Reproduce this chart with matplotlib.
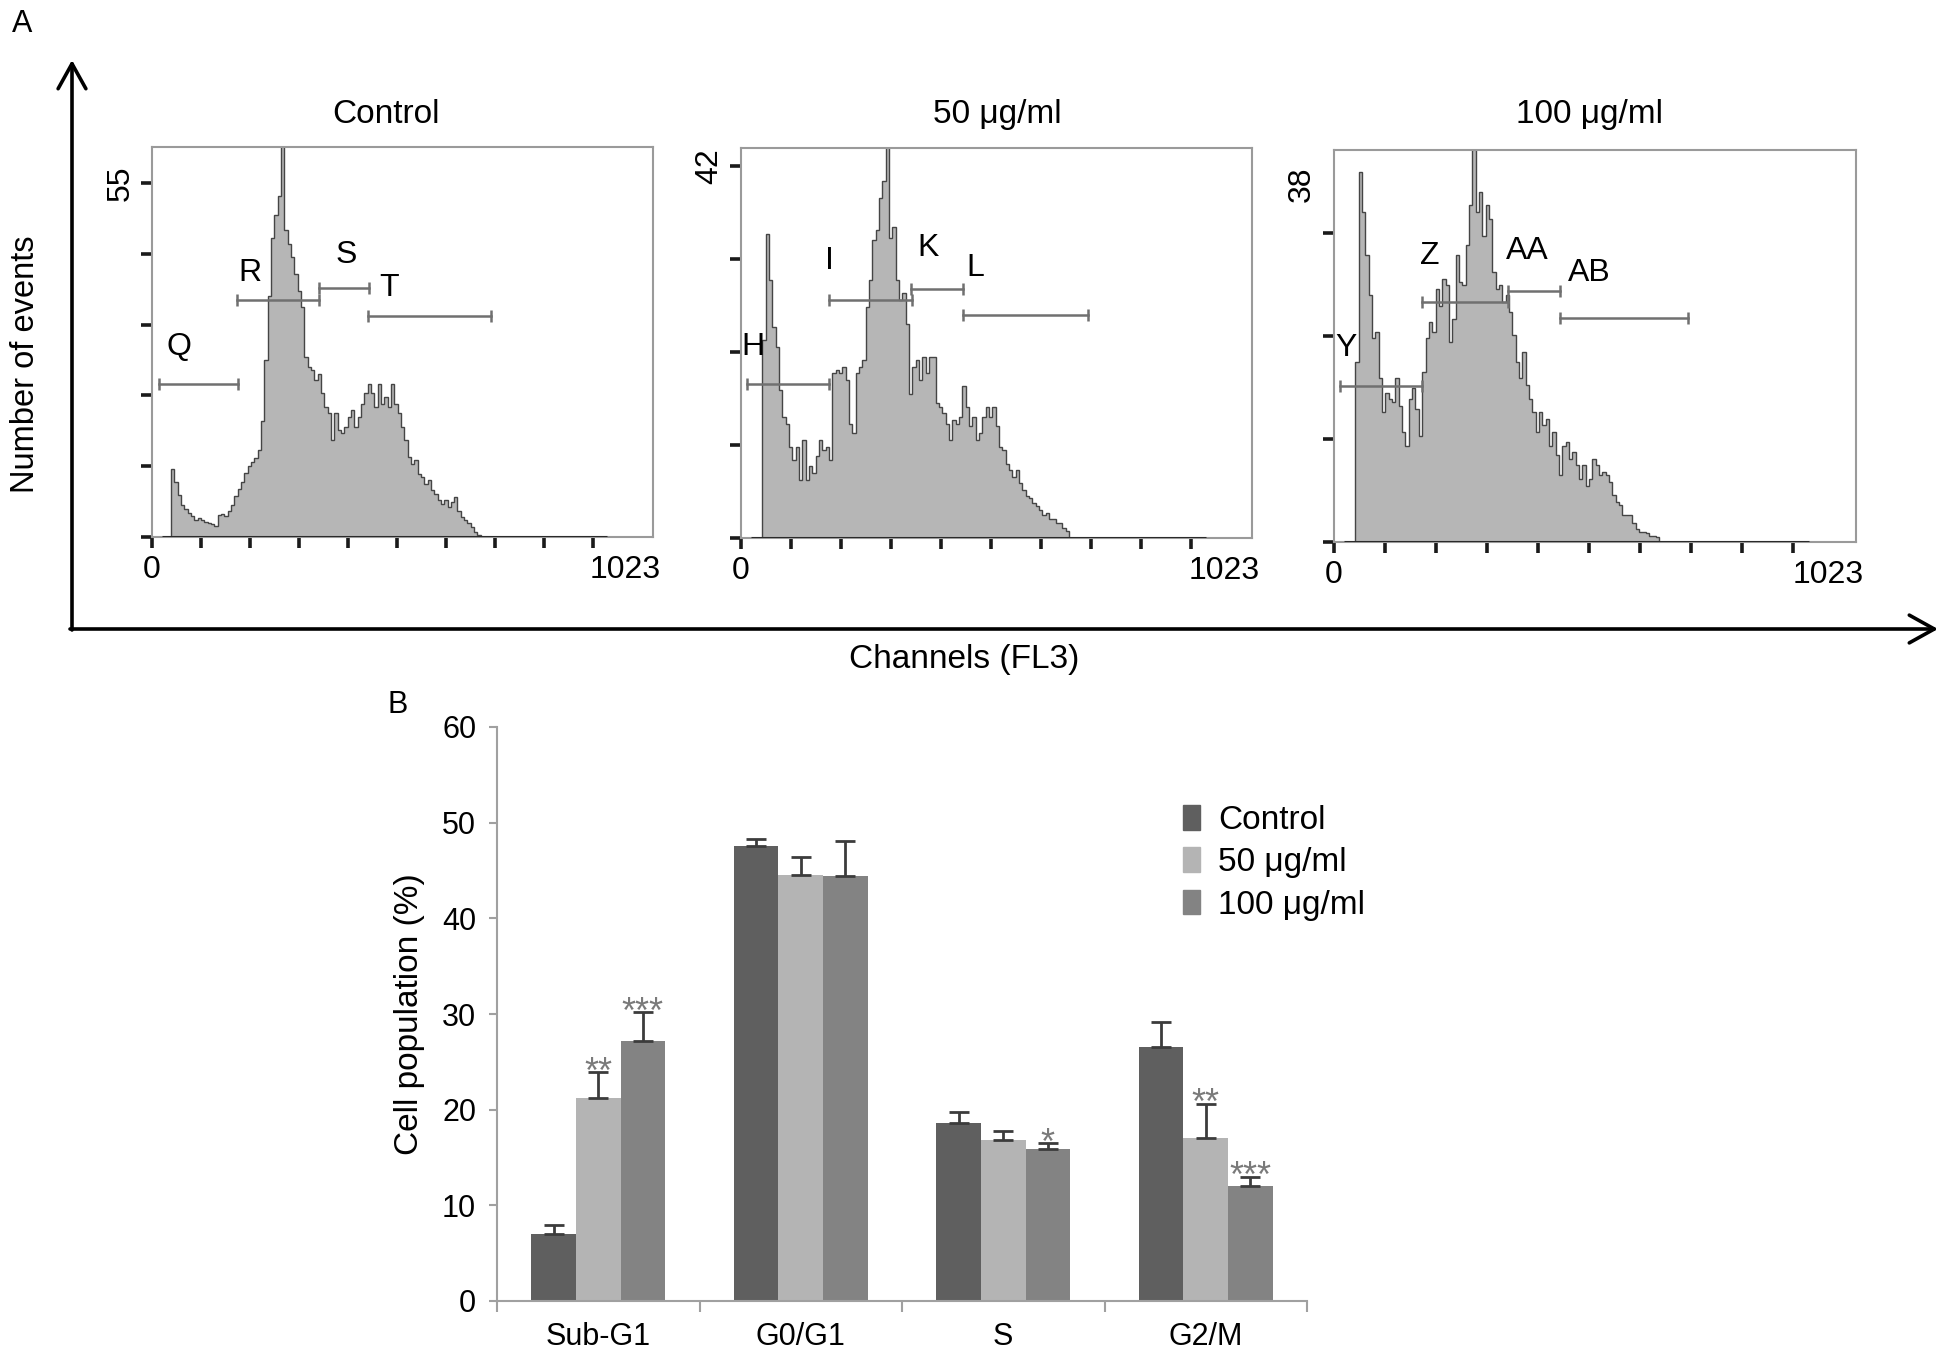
import numpy as np
import matplotlib
matplotlib.use("Agg")
import matplotlib.pyplot as plt
from matplotlib.patches import Patch

plt.rcParams['font.family'] = ['Liberation Sans', 'DejaVu Sans']

# ---------------- data: panel A (histograms, counts per bin) ----------------
ctrl_start, ctrl_step = 39, 6.8
ctrl_counts = [10.6, 8.5, 6.5, 5.0, 4.3, 3.8, 3.3, 2.7, 2.9, 2.7, 2.4, 2.2, 2.0, 1.7,
               3.4, 3.5, 3.2, 4.0, 4.9, 6.3, 7.5, 8.5, 10.0, 11.0, 11.6, 12.2, 13.5,
               18.0, 27.5, 37.5, 46.5, 50.0, 53.0, 61.0, 47.7, 45.6, 43.5, 40.9, 38.3,
               35.8, 28.0, 26.4, 25.9, 24.4, 25.4, 22.3, 20.2, 19.2, 15.0, 19.2, 16.6,
               16.1, 17.1, 18.7, 19.7, 17.1, 18.7, 20.7, 22.3, 23.8, 22.3, 20.2, 23.8,
               20.7, 21.8, 20.2, 23.8, 20.7, 19.2, 17.1, 15.0, 12.4, 11.4, 11.9, 9.8,
               9.3, 8.3, 8.8, 7.3, 6.7, 5.7, 5.2, 5.7, 4.7, 5.4, 6.2, 4.1, 3.1, 2.6,
               2.1, 1.6, 0.8, 0.3]

d50_start, d50_step = 43, 6.67
d50_counts = [22.3, 34.3, 29.1, 23.8, 21.6, 16.7, 13.7, 12.9, 10.3, 8.8, 10.3, 6.6,
              11.1, 6.6, 8.1, 7.3, 9.2, 11.1, 9.9, 10.3, 8.8, 18.6, 18.9, 18.6, 19.3,
              17.8, 12.9, 11.8, 18.6, 19.3, 20.1, 26.1, 29.1, 33.6, 34.7, 38.4, 40.3,
              44.5, 33.9, 35.1, 29.1, 26.8, 27.6, 24.2, 16.3, 19.3, 20.1, 17.8, 20.4,
              18.6, 20.4, 20.4, 15.2, 14.8, 14.1, 12.9, 11.1, 13.3, 12.9, 13.7, 17.1,
              14.8, 12.6, 13.7, 11.1, 11.8, 13.7, 14.8, 13.7, 14.8, 12.6, 10.3, 9.9,
              8.4, 7.7, 6.9, 7.7, 6.2, 5.4, 4.7, 4.5, 3.9, 3.6, 3.2, 2.6, 2.8, 2.1,
              2.1, 1.7, 1.7, 1.1, 0.75]

d100_start, d100_step = 42, 6.54
d100_counts = [16.6, 34.2, 30.5, 26.5, 22.8, 18.8, 19.4, 15.1, 12.0, 13.8, 13.2, 12.9,
               15.1, 12.6, 10.2, 8.9, 13.2, 14.2, 12.3, 9.8, 15.7, 18.8, 20.3, 19.4,
               23.4, 21.8, 24.3, 23.7, 18.5, 20.6, 26.5, 24.0, 23.7, 27.4, 31.1, 37.0,
               30.5, 32.3, 28.3, 31.1, 29.8, 24.9, 23.4, 23.7, 22.2, 22.8, 21.2, 19.1,
               16.6, 15.1, 17.5, 14.5, 13.2, 12.0, 10.2, 12.0, 10.8, 11.4, 8.9, 10.2,
               8.0, 6.2, 8.9, 9.2, 7.7, 8.3, 7.1, 5.8, 7.1, 5.2, 5.8, 7.7, 7.1, 6.2,
               6.5, 6.2, 5.5, 4.3, 3.7, 3.4, 2.5, 2.5, 2.5, 1.8, 1.2, 0.9, 0.9, 0.8,
               0.6, 0.6, 0.5]

# gates: (label, start channel, end channel, level, label channel, label level)
ctrl_gates = [("Q", 14, 175, 23.7, 54, 29.6), ("R", 174, 342, 36.8, 201, 41.0),
              ("S", 342, 444, 38.7, 396, 43.8), ("T", 442, 692, 34.4, 484, 38.7)]
d50_gates = [("H", 12, 176, 17.4, 24, 21.5), ("I", 176, 342, 26.9, 177, 31.2),
             ("K", 341, 444, 28.1, 374, 32.7), ("L", 444, 694, 25.2, 470, 30.5)]
d100_gates = [("Y", 11, 172, 14.4, 24, 17.9), ("Z", 172, 341, 22.2, 188, 26.4),
              ("AA", 341, 443, 23.2, 379, 26.9), ("AB", 443, 693, 20.7, 500, 24.8)]

panel_titles = ["Control", "50 \u03bcg/ml", "100 \u03bcg/ml"]
panel_ymax = [55, 42, 38]

# ---------------- data: panel B (bar chart) ----------------
phases = ["Sub-G1", "G0/G1", "S", "G2/M"]
groups = ["Control", "50 \u03bcg/ml", "100 \u03bcg/ml"]
control_vals = [7.0, 47.6, 18.6, 26.6]
d50_vals = [21.2, 44.5, 16.8, 17.0]
d100_vals = [27.2, 44.4, 15.9, 12.0]
control_err = [0.9, 0.7, 1.2, 2.6]
d50_err = [2.7, 1.9, 1.0, 3.6]
d100_err = [3.0, 3.7, 0.6, 1.0]
d50_sig = ["**", "", "", "**"]
d100_sig = ["***", "", "*", "***"]

W, H = 1950, 1361
fig = plt.figure(figsize=(W / 100, H / 100), dpi=100)


def fig_rect(x0, y0, x1, y1):
    return [x0 / W, 1 - y1 / H, (x1 - x0) / W, (y1 - y0) / H]


# overlay in pixel coordinates for arrows and free labels
ov = fig.add_axes([0, 0, 1, 1], zorder=-1)
ov.set_xlim(0, W)
ov.set_ylim(H, 0)
ov.axis('off')

arrow = dict(arrowstyle='->,head_length=0.9,head_width=0.5', lw=2.6, color='black',
             mutation_scale=20, shrinkA=0, shrinkB=0)
ov.annotate("", xy=(72, 60), xytext=(72, 630), arrowprops=arrow)
ov.annotate("", xy=(1938, 629), xytext=(70, 629), arrowprops=arrow)
ov.text(22, 24, "A", fontsize=22, ha='center', va='center')
ov.text(398, 705, "B", fontsize=22, ha='center', va='center')
ov.text(26, 364, "Number of events", fontsize=23.5, rotation=90, ha='center', va='center')
ov.text(964, 659, "Channels (FL3)", fontsize=24, ha='center', va='center')

rects = [(152, 147, 653, 537), (741, 148, 1252, 538), (1334, 150, 1856, 542)]
ylims = [60.6, 44.0, 36.2]
title_x = [386, 997, 1589]
hist_data = [(ctrl_start, ctrl_step, ctrl_counts), (d50_start, d50_step, d50_counts),
             (d100_start, d100_step, d100_counts)]
gate_sets = [ctrl_gates, d50_gates, d100_gates]

for i in range(3):
    ax = fig.add_axes(fig_rect(*rects[i]))
    start, step, counts = hist_data[i]
    edges = start + step * np.arange(len(counts) + 1)
    ax.stairs(counts, edges, fill=True, color='#b6b6b6', lw=0)
    ax.stairs(counts, edges, color='#454545', lw=1.0)
    ax.plot([20, 930], [0, 0], color='#2a2a2a', lw=2.2, solid_capstyle='butt', zorder=4)

    for lab, g0, g1, lev, lx, ly in gate_sets[i]:
        ax.plot([g0, g1], [lev, lev], color='#707070', lw=1.8, zorder=5)
        ax.plot([g0, g1], [lev, lev], ls='none', marker='|', ms=8, mew=1.8,
                color='#707070', zorder=5)
        ax.text(lx, ly, lab, fontsize=23, ha='center', va='center', zorder=6)

    ax.set_xlim(0, 1023)
    ax.set_ylim(0, ylims[i])
    ax.set_xticks(np.arange(0, 1000, 100))
    ax.set_xticklabels([])
    ymax = panel_ymax[i]
    if i < 2:
        ax.set_yticks(np.linspace(0, ymax, 6 if i == 0 else 5))
    else:
        ax.set_yticks(np.arange(0, 30, 9.5))
    ax.set_yticklabels([])
    ax.tick_params(axis='both', direction='out', length=8, width=2.6, color='#1a1a1a')
    for sp in ax.spines.values():
        sp.set_color('#9a9a9a')
        sp.set_linewidth(1.5)

    ytop = ymax if i < 2 else 33.0
    ax.text(-0.062, ytop, str(ymax), transform=ax.get_yaxis_transform(), fontsize=23,
            rotation=90, ha='center', va='center')
    ax.text(0, -0.085, "0", transform=ax.transAxes, fontsize=23, ha='center', va='center')
    ax.text(1.015, -0.085, "1023", transform=ax.transAxes, fontsize=23, ha='right',
            va='center')
    ov.text(title_x[i], 114, panel_titles[i], fontsize=24, ha='center', va='center')

# ---------------- panel B ----------------
bx = fig.add_axes(fig_rect(497, 727, 1307, 1301))
x = np.arange(len(phases))
bw = 0.22
colors = ['#5f5f5f', '#b4b4b4', '#838383']
series = [(control_vals, control_err, None), (d50_vals, d50_err, d50_sig),
          (d100_vals, d100_err, d100_sig)]
for k, (vals, err, sig) in enumerate(series):
    xs = x + (k - 1) * bw
    bx.bar(xs, vals, width=bw, color=colors[k], zorder=2)
    bx.errorbar(xs, vals, yerr=[np.zeros(len(vals)), err], fmt='none',
                ecolor='#3c3c3c', elinewidth=2, capsize=7, capthick=2, zorder=3)
    if sig is not None:
        for xi, v, e, s in zip(xs, vals, err, sig):
            if s:
                bx.text(xi, v + e - 1.1, s, fontsize=26, color='#7a7a7a',
                        ha='center', va='baseline', zorder=4)

bx.set_xlim(-0.5, 3.5)
bx.set_ylim(0, 60)
bx.set_yticks(np.arange(0, 61, 10))
bx.set_xticks(x)
bx.set_xticklabels(phases)
bx.set_xticks(np.arange(-0.5, 3.6, 1), minor=True)
bx.tick_params(axis='x', which='major', length=0, pad=15, labelsize=22)
bx.tick_params(axis='x', which='minor', length=8, width=1.5, color='#a0a0a0')
bx.tick_params(axis='y', length=6, width=1.5, color='#a0a0a0', pad=9, labelsize=22)
for side in ['top', 'right']:
    bx.spines[side].set_visible(False)
for side in ['left', 'bottom']:
    bx.spines[side].set_color('#a0a0a0')
    bx.spines[side].set_linewidth(1.5)
bx.set_ylabel("Cell population (%)", fontsize=24, labelpad=12)

handles = [Patch(color=c) for c in colors]
fig.legend(handles, groups, loc='upper left', bbox_to_anchor=(1183 / W, 1 - 805 / H),
           frameon=False, fontsize=24, handlelength=0.5, handleheight=0.75,
           handletextpad=0.55, labelspacing=0.34, borderaxespad=0, borderpad=0)

fig.savefig("out.png", dpi=100)
